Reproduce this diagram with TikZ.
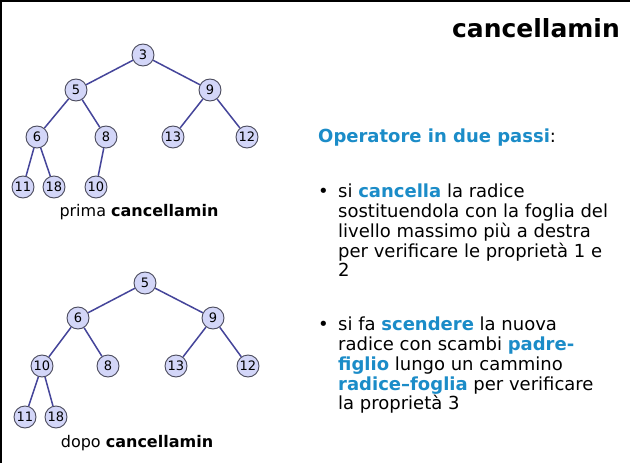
\documentclass[tikz,border=0pt]{standalone}
\usepackage{fontspec}
\setmainfont{DejaVu Sans}
\definecolor{keyblue}{HTML}{1B8CC8}
\definecolor{nodefill}{HTML}{D3D6F8}
\definecolor{nodeline}{HTML}{4A4A5C}
\definecolor{edgecol}{HTML}{45459A}
\begin{document}
\begin{tikzpicture}[x=1pt,y=-1pt,
  hnode/.style={circle,draw=nodeline,fill=nodefill,line width=0.9pt,minimum size=22pt,inner sep=0pt,font=\fontsize{13}{13}\selectfont},
  hedge/.style={draw=edgecol,line width=1.5pt},
  line/.style={anchor=base west,inner sep=0pt,font=\fontsize{18}{20}\selectfont},
  caption/.style={anchor=base,inner sep=0pt,font=\fontsize{16}{18}\selectfont}]
  \useasboundingbox (0,0) rectangle (630,463);
  \fill[white] (0,0) rectangle (630,463);
  % frame edges
  \fill[black] (0,0) rectangle (2,463);
  \fill[black] (0,0) rectangle (630,1.5);

  % heap before the deletion
  \node[hnode] (a3)  at (143,55)  {3};
  \node[hnode] (a5)  at (76,90)   {5};
  \node[hnode] (a9)  at (210,90)  {9};
  \node[hnode] (a6)  at (37,137)  {6};
  \node[hnode] (a8)  at (106,137) {8};
  \node[hnode] (a13) at (173,137) {13};
  \node[hnode] (a12) at (247,137) {12};
  \node[hnode] (a11) at (23,187)  {11};
  \node[hnode] (a18) at (54,187)  {18};
  \node[hnode] (a10) at (96,187)  {10};
  \foreach \p/\c in {a3/a5,a3/a9,a5/a6,a5/a8,a9/a13,a9/a12,a6/a11,a6/a18,a8/a10}
    \draw[hedge] (\p) -- (\c);
  \node[caption] (capA) at (139,216) {prima \textbf{cancellamin}};

  % heap after the deletion
  \node[hnode] (b5)  at (145,283) {5};
  \node[hnode] (b6)  at (78,318)  {6};
  \node[hnode] (b9)  at (213,318) {9};
  \node[hnode] (b10) at (42,366)  {10};
  \node[hnode] (b8)  at (108,366) {8};
  \node[hnode] (b13) at (176,366) {13};
  \node[hnode] (b12) at (248,366) {12};
  \node[hnode] (b11) at (25,417)  {11};
  \node[hnode] (b18) at (56,417)  {18};
  \foreach \p/\c in {b5/b6,b5/b9,b6/b10,b6/b8,b9/b13,b9/b12,b10/b11,b10/b18}
    \draw[hedge] (\p) -- (\c);
  \node[caption] (capB) at (137,447) {dopo \textbf{cancellamin}};

  % title and explanation
  \node[anchor=base east,inner sep=0pt,font=\fontsize{25}{25}\selectfont\bfseries] (title) at (620,37) {cancellamin};
  \node[line] (op) at (318,142) {\textcolor{keyblue}{\textbf{Operatore in due passi}}:};

  \node[line] (bulA) at (318,197) {•};
  \node[line] (a1) at (338,197) {si \textcolor{keyblue}{\textbf{cancella}} la radice};
  \node[line] (a2) at (338,217) {sostituendola con la foglia del};
  \node[line] (a3l) at (338,237) {livello massimo più a destra};
  \node[line] (a4) at (338,257) {per verificare le proprietà 1 e};
  \node[line] (a5l) at (338,276) {2};

  \node[line] (bulB) at (318,330) {•};
  \node[line] (b1) at (338,330) {si fa \textcolor{keyblue}{\textbf{scendere}} la nuova};
  \node[line] (b2) at (338,350) {radice con scambi \textcolor{keyblue}{\textbf{padre-}}};
  \node[line] (b3) at (338,370) {\textcolor{keyblue}{\textbf{figlio}} lungo un cammino};
  \node[line] (b4) at (338,390) {\textcolor{keyblue}{\textbf{radice–foglia}} per verificare};
  \node[line] (b5l) at (338,409) {la proprietà 3};
\end{tikzpicture}
\end{document}
